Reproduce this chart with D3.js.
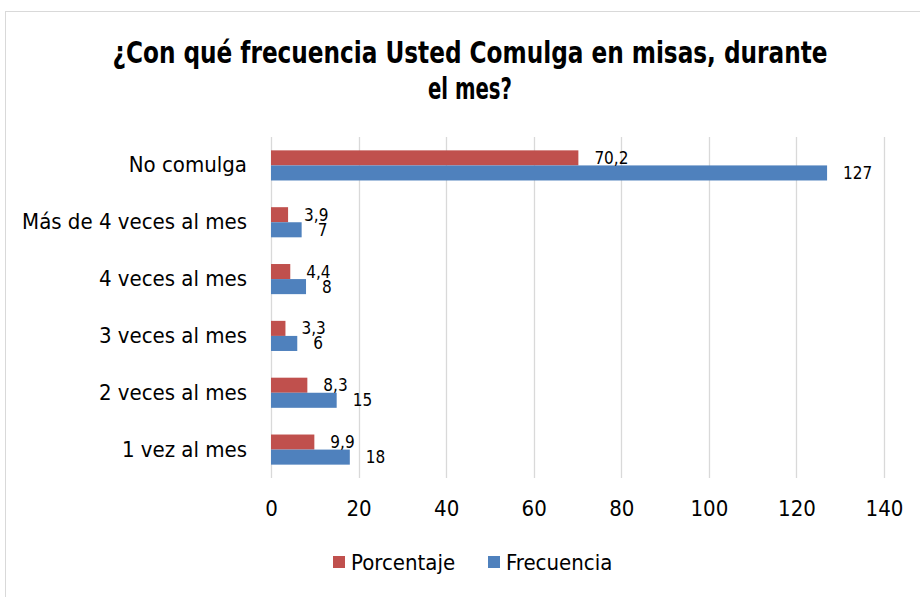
<!DOCTYPE html>
<html>
<head>
<meta charset="utf-8">
<script src="https://cdn.jsdelivr.net/npm/d3@7"></script>
<style>
  body { margin: 0; background: #fff; }
  text { font-family: "Liberation Sans Narrow", "DejaVu Sans Condensed", sans-serif; fill: #000; }
</style>
</head>
<body>
<svg id="chart" width="920" height="597"></svg>
<script>
// data
var categories = ["No comulga", "Más de 4 veces al mes", "4 veces al mes", "3 veces al mes", "2 veces al mes", "1 vez al mes"];
var porcentaje = [70.2, 3.9, 4.4, 3.3, 8.3, 9.9];
var frecuencia = [127, 7, 8, 6, 15, 18];
var xTicks = [0, 20, 40, 60, 80, 100, 120, 140];
var seriesNames = ["Porcentaje", "Frecuencia"];
var colors = ["#C0504D", "#4F81BD"];

(function () {
  var svg = d3.select("#chart");
  var font = '"Liberation Sans Narrow", "DejaVu Sans Condensed", sans-serif';

  // outer frame
  svg.append("rect")
    .attr("x", 5.5).attr("y", 11.5)
    .attr("width", 930).attr("height", 600)
    .attr("fill", "none").attr("stroke", "#D9D9D9");

  // title
  var title = svg.append("text")
    .attr("text-anchor", "middle")
    .style("font-weight", "bold")
    .style("font-size", "30px");
  title.append("tspan").attr("x", 470).attr("y", 63)
    .attr("textLength", 715).attr("lengthAdjust", "spacingAndGlyphs")
    .text("¿Con qué frecuencia Usted Comulga en misas, durante");
  title.append("tspan").attr("x", 470).attr("y", 99)
    .attr("textLength", 84).attr("lengthAdjust", "spacingAndGlyphs")
    .text("el mes?");

  var pLeft = 271, pRight = 884, pTop = 137, pBottom = 478;

  var x = d3.scaleLinear().domain([0, 140]).range([pLeft, pRight]);
  var y = d3.scaleBand().domain(categories).range([pTop, pBottom]).paddingInner(0.47).paddingOuter(0.235);
  var sub = d3.scaleBand().domain(seriesNames).range([0, y.bandwidth()]);

  // gridlines
  svg.append("g").selectAll("line")
    .data(xTicks)
    .join("line")
    .attr("x1", d => Math.round(x(d)) + 0.5).attr("x2", d => Math.round(x(d)) + 0.5)
    .attr("y1", pTop).attr("y2", pBottom)
    .attr("stroke", "#D9D9D9").attr("stroke-width", 1.3);

  // x axis labels
  var xAxis = svg.append("g")
    .attr("transform", "translate(0," + (pBottom + 10) + ")")
    .call(d3.axisBottom(x).tickValues(xTicks).tickSize(0).tickPadding(12));
  xAxis.select(".domain").remove();
  xAxis.selectAll("text")
    .style("font-family", font)
    .style("font-size", "22px").attr("fill", "#000");

  // category labels
  var yAxis = svg.append("g")
    .attr("transform", "translate(" + (pLeft - 1) + ",0)")
    .call(d3.axisLeft(y).tickSize(0).tickPadding(23));
  yAxis.select(".domain").remove();
  yAxis.selectAll("text")
    .style("font-family", font)
    .style("font-size", "22px").attr("fill", "#000");

  var rows = categories.map((c, i) => ({ cat: c, vals: [porcentaje[i], frecuencia[i]] }));

  var groups = svg.append("g").selectAll("g")
    .data(rows)
    .join("g")
    .attr("transform", d => "translate(0," + y(d.cat) + ")");

  groups.selectAll("rect")
    .data(d => d.vals.map((v, k) => ({ v: v, k: k })))
    .join("rect")
    .attr("x", x(0))
    .attr("y", d => sub(seriesNames[d.k]))
    .attr("width", d => x(d.v) - x(0))
    .attr("height", sub.bandwidth())
    .attr("fill", d => colors[d.k]);

  groups.selectAll("text.lbl")
    .data(d => d.vals.map((v, k) => ({ v: v, k: k })))
    .join("text")
    .attr("class", "lbl")
    .attr("x", d => x(d.v) + 16)
    .attr("y", d => sub(seriesNames[d.k]) + sub.bandwidth() / 2)
    .attr("dy", "0.35em")
    .style("font-size", "17px")
    .text(d => String(d.v).replace(".", ","));

  // legend
  var legend = svg.append("g");
  var legendX = [333, 488];
  seriesNames.forEach(function (name, k) {
    legend.append("rect")
      .attr("x", legendX[k]).attr("y", 556)
      .attr("width", 12).attr("height", 12)
      .attr("fill", colors[k]);
    legend.append("text")
      .attr("x", legendX[k] + 18).attr("y", 562)
      .attr("dy", "0.35em")
      .style("font-size", "22px")
      .text(name);
  });
})();
</script>
</body>
</html>
